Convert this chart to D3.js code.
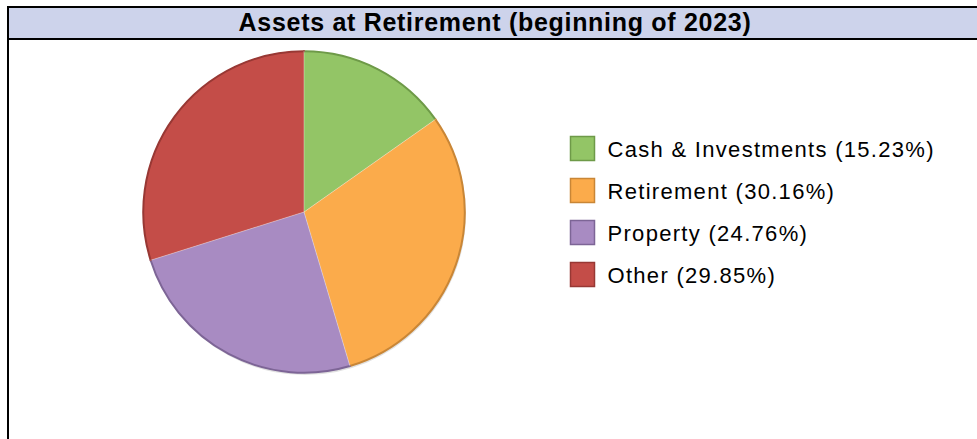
<!DOCTYPE html>
<html><head><meta charset="utf-8">
<script src="https://cdn.jsdelivr.net/npm/d3@7"></script>
<style>html,body{margin:0;padding:0;background:#fff;overflow:hidden}</style>
</head><body>
<svg id="c" width="977" height="439"></svg>
<script>
const title = "Assets at Retirement (beginning of 2023)";
const categories = ["Cash & Investments", "Retirement", "Property", "Other"];
const values = [15.23, 30.16, 24.76, 29.85];
const colors = ["#93c566", "#fbab4b", "#a88bc2", "#c44d48"];
const strokes = ["#6e9a48", "#c98636", "#7d6596", "#983834"];

const svg = d3.select("#c");
const W = 977, H = 439;
// frame
svg.append("rect").attr("x", 8).attr("y", 7).attr("width", W + 10).attr("height", 31)
  .attr("fill", "#cdd3eb");
svg.append("line").attr("x1", 7).attr("x2", W + 5).attr("y1", 7).attr("y2", 7).attr("stroke", "#000").attr("stroke-width", 2);
svg.append("line").attr("x1", 7).attr("x2", W + 5).attr("y1", 39).attr("y2", 39).attr("stroke", "#000").attr("stroke-width", 2);
svg.append("line").attr("x1", 8).attr("x2", 8).attr("y1", 6).attr("y2", H + 5).attr("stroke", "#000").attr("stroke-width", 2);
svg.append("text").attr("x", 495).attr("y", 31).attr("text-anchor", "middle")
  .attr("font-family", "Liberation Sans, Arial, sans-serif").attr("font-weight", "bold")
  .attr("font-size", 25).attr("letter-spacing", "0.7px").attr("fill", "#000").text(title);

const cx = 304, cy = 212, r = 161;
const pie = d3.pie().sort(null).value(d => d)(values);
const arc = d3.arc().innerRadius(0).outerRadius(r);
const g = svg.append("g").attr("transform", `translate(${cx},${cy})`);
// subtle shadow
g.append("circle").attr("cx", 1).attr("cy", 2).attr("r", r).attr("fill", "#000").attr("opacity", 0.12);
g.selectAll("path.s").data(pie).join("path").attr("class", "s")
  .attr("d", arc).attr("fill", (d, i) => colors[i]);
g.selectAll("path.o").data(pie).join("path").attr("class", "o")
  .attr("d", d3.arc().innerRadius(r - 0.5).outerRadius(r))
  .attr("fill", "none").attr("stroke", (d, i) => strokes[i]).attr("stroke-width", 1.5);
g.selectAll("line.sep").data(pie).join("line").attr("class", "sep")
  .attr("x1", 0).attr("y1", 0)
  .attr("x2", d => r * Math.sin(d.startAngle)).attr("y2", d => -r * Math.cos(d.startAngle))
  .attr("stroke", "#ffffff").attr("stroke-opacity", 0.35).attr("stroke-width", 1);

const ly = d3.scaleBand().domain(categories).range([127, 295]);
const lg = svg.append("g");
const rows = lg.selectAll("g").data(categories).join("g")
  .attr("transform", d => `translate(570,${ly(d) + ly.bandwidth() / 2})`);
rows.append("rect").attr("x", 0.5).attr("y", -11.5).attr("width", 24).attr("height", 24)
  .attr("fill", (d, i) => colors[i]).attr("stroke", (d, i) => strokes[i]).attr("stroke-width", 1.5);
rows.append("text").attr("x", 37.5).attr("y", 9)
  .attr("font-family", "Liberation Sans, Arial, sans-serif").attr("font-size", 22)
  .attr("letter-spacing", "1.3px").attr("fill", "#000")
  .text((d, i) => `${d} (${values[i].toFixed(2)}%)`);
</script>
</body></html>
